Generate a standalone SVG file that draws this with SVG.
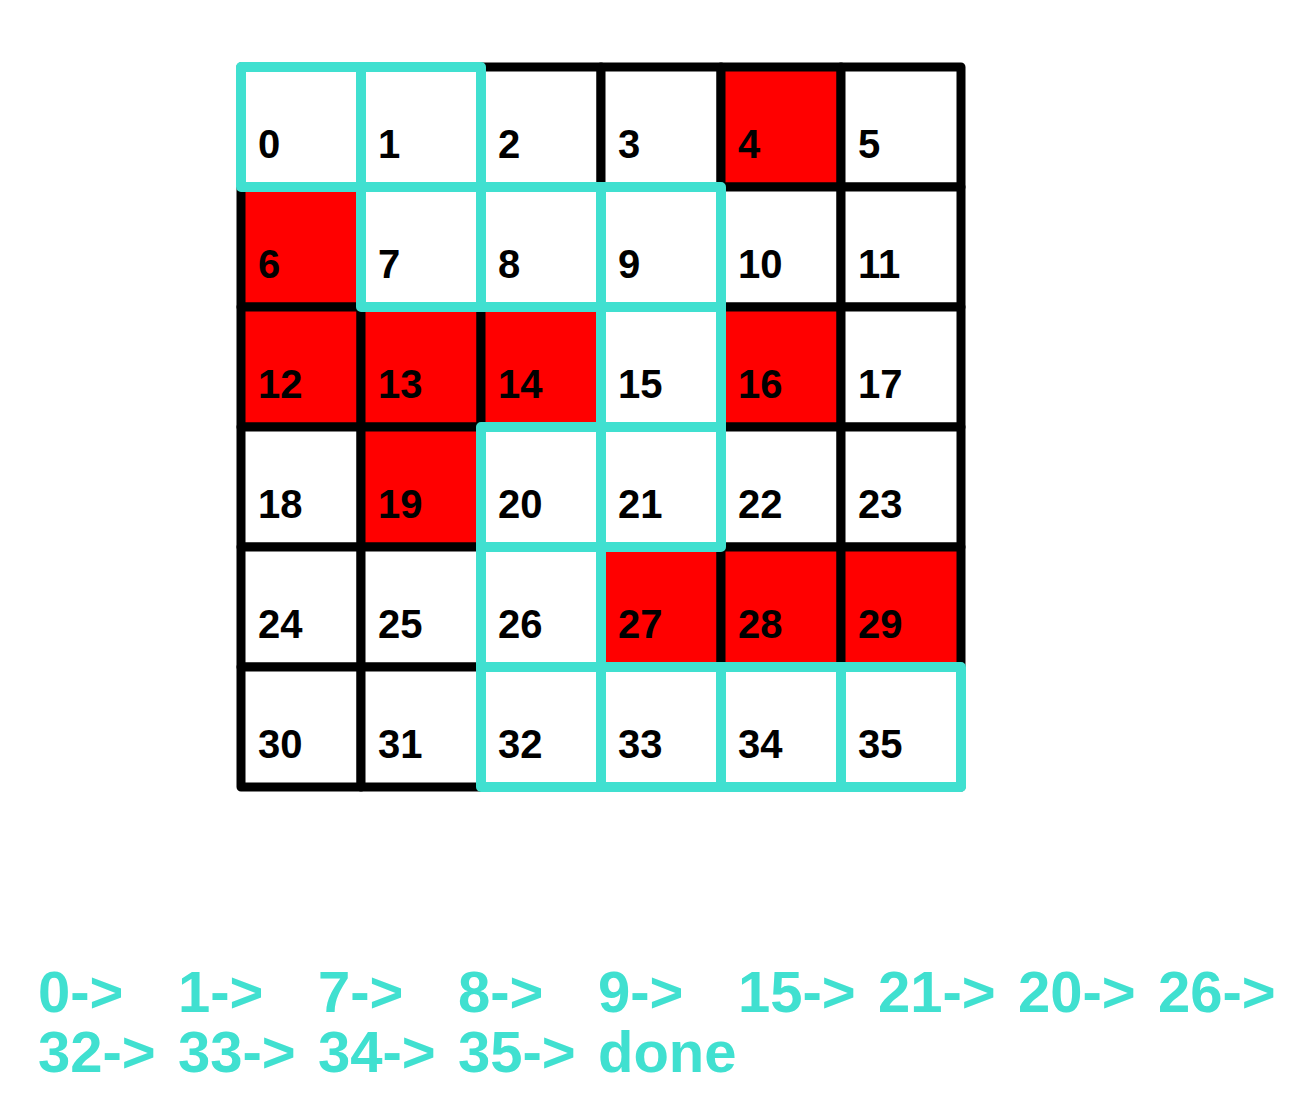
<svg xmlns="http://www.w3.org/2000/svg" width="1290" height="1110" viewBox="0 0 1290 1110">
<style>
.c{fill:#fff;stroke:#000;stroke-width:9;stroke-linejoin:round}
.r{fill:#f00}
.t{font-family:"Liberation Sans",Arial,sans-serif;font-weight:bold;font-size:40px;fill:#000}
.p{fill:none;stroke:#40e0d0;stroke-width:10;stroke-linejoin:round}
.s{font-family:"Liberation Sans",Arial,sans-serif;font-weight:bold;font-size:58px;fill:#40e0d0}
</style>
<rect width="1290" height="1110" fill="#fff"/>
<g id="grid">
<g id="cell0"><rect class="c" x="241" y="67" width="120" height="120"/><text class="t" x="258" y="158">0</text></g>
<g id="cell1"><rect class="c" x="361" y="67" width="120" height="120"/><text class="t" x="378" y="158">1</text></g>
<g id="cell2"><rect class="c" x="481" y="67" width="120" height="120"/><text class="t" x="498" y="158">2</text></g>
<g id="cell3"><rect class="c" x="601" y="67" width="120" height="120"/><text class="t" x="618" y="158">3</text></g>
<g id="cell4"><rect class="c r" x="721" y="67" width="120" height="120"/><text class="t" x="738" y="158">4</text></g>
<g id="cell5"><rect class="c" x="841" y="67" width="120" height="120"/><text class="t" x="858" y="158">5</text></g>
<g id="cell6"><rect class="c r" x="241" y="187" width="120" height="120"/><text class="t" x="258" y="278">6</text></g>
<g id="cell7"><rect class="c" x="361" y="187" width="120" height="120"/><text class="t" x="378" y="278">7</text></g>
<g id="cell8"><rect class="c" x="481" y="187" width="120" height="120"/><text class="t" x="498" y="278">8</text></g>
<g id="cell9"><rect class="c" x="601" y="187" width="120" height="120"/><text class="t" x="618" y="278">9</text></g>
<g id="cell10"><rect class="c" x="721" y="187" width="120" height="120"/><text class="t" x="738" y="278">10</text></g>
<g id="cell11"><rect class="c" x="841" y="187" width="120" height="120"/><text class="t" x="858" y="278">11</text></g>
<g id="cell12"><rect class="c r" x="241" y="307" width="120" height="120"/><text class="t" x="258" y="398">12</text></g>
<g id="cell13"><rect class="c r" x="361" y="307" width="120" height="120"/><text class="t" x="378" y="398">13</text></g>
<g id="cell14"><rect class="c r" x="481" y="307" width="120" height="120"/><text class="t" x="498" y="398">14</text></g>
<g id="cell15"><rect class="c" x="601" y="307" width="120" height="120"/><text class="t" x="618" y="398">15</text></g>
<g id="cell16"><rect class="c r" x="721" y="307" width="120" height="120"/><text class="t" x="738" y="398">16</text></g>
<g id="cell17"><rect class="c" x="841" y="307" width="120" height="120"/><text class="t" x="858" y="398">17</text></g>
<g id="cell18"><rect class="c" x="241" y="427" width="120" height="120"/><text class="t" x="258" y="518">18</text></g>
<g id="cell19"><rect class="c r" x="361" y="427" width="120" height="120"/><text class="t" x="378" y="518">19</text></g>
<g id="cell20"><rect class="c" x="481" y="427" width="120" height="120"/><text class="t" x="498" y="518">20</text></g>
<g id="cell21"><rect class="c" x="601" y="427" width="120" height="120"/><text class="t" x="618" y="518">21</text></g>
<g id="cell22"><rect class="c" x="721" y="427" width="120" height="120"/><text class="t" x="738" y="518">22</text></g>
<g id="cell23"><rect class="c" x="841" y="427" width="120" height="120"/><text class="t" x="858" y="518">23</text></g>
<g id="cell24"><rect class="c" x="241" y="547" width="120" height="120"/><text class="t" x="258" y="638">24</text></g>
<g id="cell25"><rect class="c" x="361" y="547" width="120" height="120"/><text class="t" x="378" y="638">25</text></g>
<g id="cell26"><rect class="c" x="481" y="547" width="120" height="120"/><text class="t" x="498" y="638">26</text></g>
<g id="cell27"><rect class="c r" x="601" y="547" width="120" height="120"/><text class="t" x="618" y="638">27</text></g>
<g id="cell28"><rect class="c r" x="721" y="547" width="120" height="120"/><text class="t" x="738" y="638">28</text></g>
<g id="cell29"><rect class="c r" x="841" y="547" width="120" height="120"/><text class="t" x="858" y="638">29</text></g>
<g id="cell30"><rect class="c" x="241" y="667" width="120" height="120"/><text class="t" x="258" y="758">30</text></g>
<g id="cell31"><rect class="c" x="361" y="667" width="120" height="120"/><text class="t" x="378" y="758">31</text></g>
<g id="cell32"><rect class="c" x="481" y="667" width="120" height="120"/><text class="t" x="498" y="758">32</text></g>
<g id="cell33"><rect class="c" x="601" y="667" width="120" height="120"/><text class="t" x="618" y="758">33</text></g>
<g id="cell34"><rect class="c" x="721" y="667" width="120" height="120"/><text class="t" x="738" y="758">34</text></g>
<g id="cell35"><rect class="c" x="841" y="667" width="120" height="120"/><text class="t" x="858" y="758">35</text></g>
</g>
<g id="path">
<rect class="p" x="241" y="67" width="120" height="120"/>
<rect class="p" x="361" y="67" width="120" height="120"/>
<rect class="p" x="361" y="187" width="120" height="120"/>
<rect class="p" x="481" y="187" width="120" height="120"/>
<rect class="p" x="601" y="187" width="120" height="120"/>
<rect class="p" x="601" y="307" width="120" height="120"/>
<rect class="p" x="601" y="427" width="120" height="120"/>
<rect class="p" x="481" y="427" width="120" height="120"/>
<rect class="p" x="481" y="547" width="120" height="120"/>
<rect class="p" x="481" y="667" width="120" height="120"/>
<rect class="p" x="601" y="667" width="120" height="120"/>
<rect class="p" x="721" y="667" width="120" height="120"/>
<rect class="p" x="841" y="667" width="120" height="120"/>
</g>
<g id="sequence">
<text class="s" y="1012"><tspan x="38">0-&gt;</tspan><tspan x="178">1-&gt;</tspan><tspan x="318">7-&gt;</tspan><tspan x="458">8-&gt;</tspan><tspan x="598">9-&gt;</tspan><tspan x="738">15-&gt;</tspan><tspan x="878">21-&gt;</tspan><tspan x="1018">20-&gt;</tspan><tspan x="1158">26-&gt;</tspan></text>
<text class="s" y="1072"><tspan x="38">32-&gt;</tspan><tspan x="178">33-&gt;</tspan><tspan x="318">34-&gt;</tspan><tspan x="458">35-&gt;</tspan><tspan x="598">done</tspan></text>
</g>
</svg>
